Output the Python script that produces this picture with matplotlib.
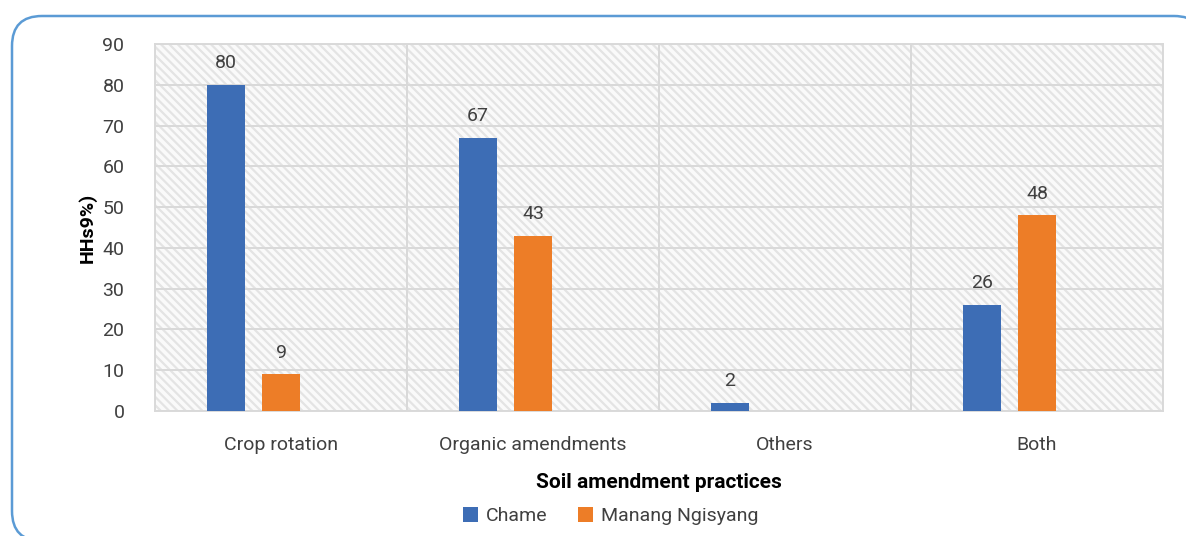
#!/usr/bin/env python3
"""
Soil amendment practices by site (Chame vs Manang Ngisyang).
Grouped bar chart, Excel-like look.
"""

import numpy as np
import matplotlib
matplotlib.use("Agg")
import matplotlib.pyplot as plt
from matplotlib.patches import FancyBboxPatch

# ============================================================
# DATA
# ============================================================

categories = ["Crop rotation", "Organic amendments", "Others", "Both"]
chame = [80, 67, 2, 26]
manang = [9, 43, 0, 48]
series_names = ["Chame", "Manang Ngisyang"]

BLUE = "#3d6db5"
ORANGE = "#ed7d27"
TEXT = "#404040"

plt.rcParams["font.family"] = ["Roboto", "DejaVu Sans"]
plt.rcParams["hatch.color"] = "#e4e4e4"
plt.rcParams["hatch.linewidth"] = 1.6

# ============================================================
# FIGURE
# ============================================================

fig = plt.figure(figsize=(11.86, 5.36), dpi=100)
ax = fig.add_axes([0.1307, 0.2332, 0.8499, 0.6847])

# rounded blue frame (inches; right edge runs off the image)
# near-invisible face keeps agg from tracing the clipped edge
frame = FancyBboxPatch(
    (0.12, -0.05), 11.92, 5.25,
    boxstyle="round,pad=0,rounding_size=0.30",
    transform=fig.dpi_scale_trans,
    facecolor=(1, 1, 1, 0.002),
    edgecolor="#5b9bd5", linewidth=1.8, zorder=0,
)
fig.patches.append(frame)

# hatched background
ax.set_facecolor("#fafafa")
ax.add_patch(plt.Rectangle((0, 0), 1, 1, transform=ax.transAxes,
                           facecolor="none", hatch="\\\\\\\\",
                           edgecolor="#e4e4e4", linewidth=0, zorder=0))

x = np.arange(len(categories))
width = 0.151
offset = 0.218

b1 = ax.bar(x - offset, chame, width, color=BLUE, zorder=3,
            label=series_names[0])
b2 = ax.bar(x, manang, width, color=ORANGE, zorder=3,
            label=series_names[1])

for bars, vals in ((b1, chame), (b2, manang)):
    for rect, v in zip(bars, vals):
        if v == 0:
            continue
        ax.annotate(f"{v}", (rect.get_x() + rect.get_width() / 2, v),
                    xytext=(0, 9), textcoords="offset points",
                    ha="center", va="bottom", fontsize=14, color=TEXT)

ax.set_xlim(-0.5, len(categories) - 0.5)
ax.set_ylim(0, 90)
ax.set_yticks(np.arange(0, 91, 10))
ax.set_xticks(x)
ax.set_xticklabels(categories)

# grid: horizontal majors and vertical category separators
for yv in np.arange(10, 91, 10):
    ax.axhline(yv, color="#d9d9d9", linewidth=1.4, zorder=1)
for xv in np.arange(0.5, len(categories) - 0.5, 1):
    ax.axvline(xv, color="#d9d9d9", linewidth=1.4, zorder=1)

for side in ("top", "right", "left", "bottom"):
    ax.spines[side].set_color("#d9d9d9")
    ax.spines[side].set_linewidth(1.4)

ax.tick_params(axis="both", length=0, labelsize=14, colors=TEXT)
ax.tick_params(axis="y", pad=22)
ax.tick_params(axis="x", pad=18)

ax.set_ylabel("HHs9%)", fontsize=14, fontweight="bold", color="#000000",
              labelpad=4)
ax.set_xlabel("Soil amendment practices", fontsize=15, fontweight="bold",
              color="#000000", labelpad=14)

ax.legend(loc="upper center", bbox_to_anchor=(0.452, -0.225), ncol=2,
          frameon=False, fontsize=14, handlelength=0.75, handleheight=0.75,
          columnspacing=1.6, handletextpad=0.4, labelcolor=TEXT,
          borderpad=0.2)

fig.savefig("out.png", dpi=100)
